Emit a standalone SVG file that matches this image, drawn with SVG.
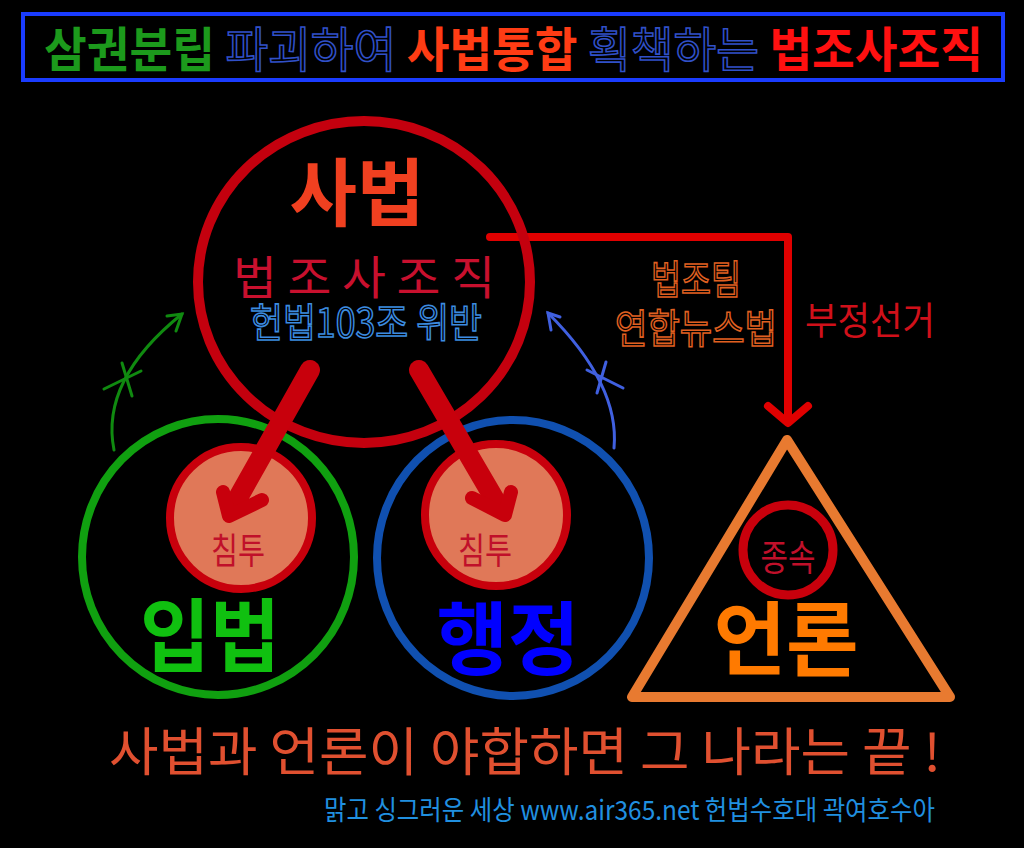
<svg xmlns="http://www.w3.org/2000/svg" width="1024" height="848" viewBox="0 0 1024 848">
<style>
text{font-family:"Noto Sans CJK KR","Noto Sans",sans-serif;}
.b{font-weight:700;}
.ol{fill:none;stroke-width:1.6;}
</style>
<rect width="1024" height="848" fill="#000"/>
<g id="title">
<rect x="23" y="14" width="980" height="66" fill="#000" stroke="#1a3cff" stroke-width="4"/>
<text x="44" y="67" font-size="48" class="b" textLength="939" lengthAdjust="spacingAndGlyphs"><tspan fill="#1c9a1c">삼권분립 </tspan><tspan class="ol" stroke="#3050c8" font-weight="400">파괴하여 </tspan><tspan fill="#ff3c14">사법통합 </tspan><tspan class="ol" stroke="#3050c8" font-weight="400">획책하는 </tspan><tspan fill="#ff1010">법조사조직</tspan></text>
</g>
<g id="connectors">
<path d="M490 237 H788 V420" fill="none" stroke="#e00000" stroke-width="8" stroke-linecap="round" stroke-linejoin="round"/>
<path d="M768 406 L788 423 L808 406" fill="none" stroke="#e00000" stroke-width="8" stroke-linecap="round" stroke-linejoin="round"/>
<g fill="none" stroke="#108a10" stroke-width="3" stroke-linecap="round">
<path d="M114 450 Q100 380 182 314"/>
<path d="M167 316 L182 314 L176 331"/>
<path d="M104 389 L141 371 M122 363 L132 396"/>
</g>
<g fill="none" stroke="#4060e0" stroke-width="3" stroke-linecap="round">
<path d="M614 448 Q620 385 548 313"/>
<path d="M560 317 L548 313 L551 330"/>
<path d="M587 370 L623 388 M606 362 L597 393"/>
</g>
</g>
<g id="node-ipbeop">
<ellipse cx="218" cy="557" rx="136" ry="138" fill="none" stroke="#10a010" stroke-width="8"/>
<text x="210" y="665" font-size="80" class="b" fill="#10c010" text-anchor="middle" textLength="140" lengthAdjust="spacingAndGlyphs">입법</text>
</g>
<g id="node-haengjeong">
<ellipse cx="513" cy="558" rx="136" ry="138" fill="none" stroke="#1050b0" stroke-width="8"/>
<text x="508" y="668" font-size="80" class="b" fill="#0000ff" text-anchor="middle" textLength="143" lengthAdjust="spacingAndGlyphs">행정</text>
</g>
<g id="node-sabeop">
<ellipse cx="364" cy="282" rx="166" ry="161" fill="none" stroke="#c4000e" stroke-width="10"/>
<text x="357" y="220" font-size="74" class="b" fill="#f04020" text-anchor="middle" textLength="135" lengthAdjust="spacingAndGlyphs">사법</text>
<text x="233" y="294" font-size="46" fill="#c8102e" textLength="262" lengthAdjust="spacingAndGlyphs">법 조 사 조 직</text>
<text x="250" y="337" font-size="40" class="ol" stroke="#3c8ce0" textLength="232" lengthAdjust="spacingAndGlyphs">헌법103조 위반</text>
</g>
<g id="node-chimtu-left">
<circle cx="241" cy="518" r="71" fill="#e07858" stroke="#c8000c" stroke-width="8"/>
<text x="238" y="564" font-size="36" fill="#c0102a" text-anchor="middle" textLength="54" lengthAdjust="spacingAndGlyphs">침투</text>
</g>
<g id="node-chimtu-right">
<circle cx="496" cy="515" r="71" fill="#e07858" stroke="#c8000c" stroke-width="8"/>
<text x="485" y="564" font-size="36" fill="#c0102a" text-anchor="middle" textLength="54" lengthAdjust="spacingAndGlyphs">침투</text>
</g>
<g id="thick-arrows" fill="none" stroke="#c8000c" stroke-linecap="round" stroke-linejoin="round">
<path d="M310 370 L234 505" stroke-width="20"/>
<path d="M223 492 L229 516 L262 500" stroke-width="14"/>
<path d="M419 370 L498 505" stroke-width="20"/>
<path d="M472 498 L505 515 L511 492" stroke-width="14"/>
</g>
<g id="node-eollon">
<path d="M787 440 L632 697 L950 697 Z" fill="none" stroke="#e87a30" stroke-width="10" stroke-linejoin="round"/>
<circle cx="788" cy="550" r="45" fill="none" stroke="#c8000c" stroke-width="9"/>
<text x="788" y="571" font-size="36" fill="#c0102a" text-anchor="middle" textLength="55" lengthAdjust="spacingAndGlyphs">종속</text>
<text x="786" y="668" font-size="80" class="b" fill="#ff7a00" text-anchor="middle" textLength="145" lengthAdjust="spacingAndGlyphs">언론</text>
</g>
<g id="labels">
<text x="696" y="294" font-size="40" class="ol" stroke="#e06020" text-anchor="middle" textLength="90" lengthAdjust="spacingAndGlyphs">법조팀</text>
<text x="696" y="343" font-size="40" class="ol" stroke="#e06020" text-anchor="middle" textLength="162" lengthAdjust="spacingAndGlyphs">연합뉴스법</text>
<text x="870" y="334" font-size="38" fill="#d0101a" text-anchor="middle" textLength="130" lengthAdjust="spacingAndGlyphs">부정선거</text>
</g>
<g id="footer">
<text x="109" y="771" font-size="52" fill="#e05030" textLength="832" lengthAdjust="spacingAndGlyphs">사법과 언론이 야합하면 그 나라는 끝 !</text>
<text x="324" y="820" font-size="27" fill="#2090e0" textLength="611" lengthAdjust="spacingAndGlyphs">맑고 싱그러운 세상 www.air365.net 헌법수호대 곽여호수아</text>
</g>
</svg>
